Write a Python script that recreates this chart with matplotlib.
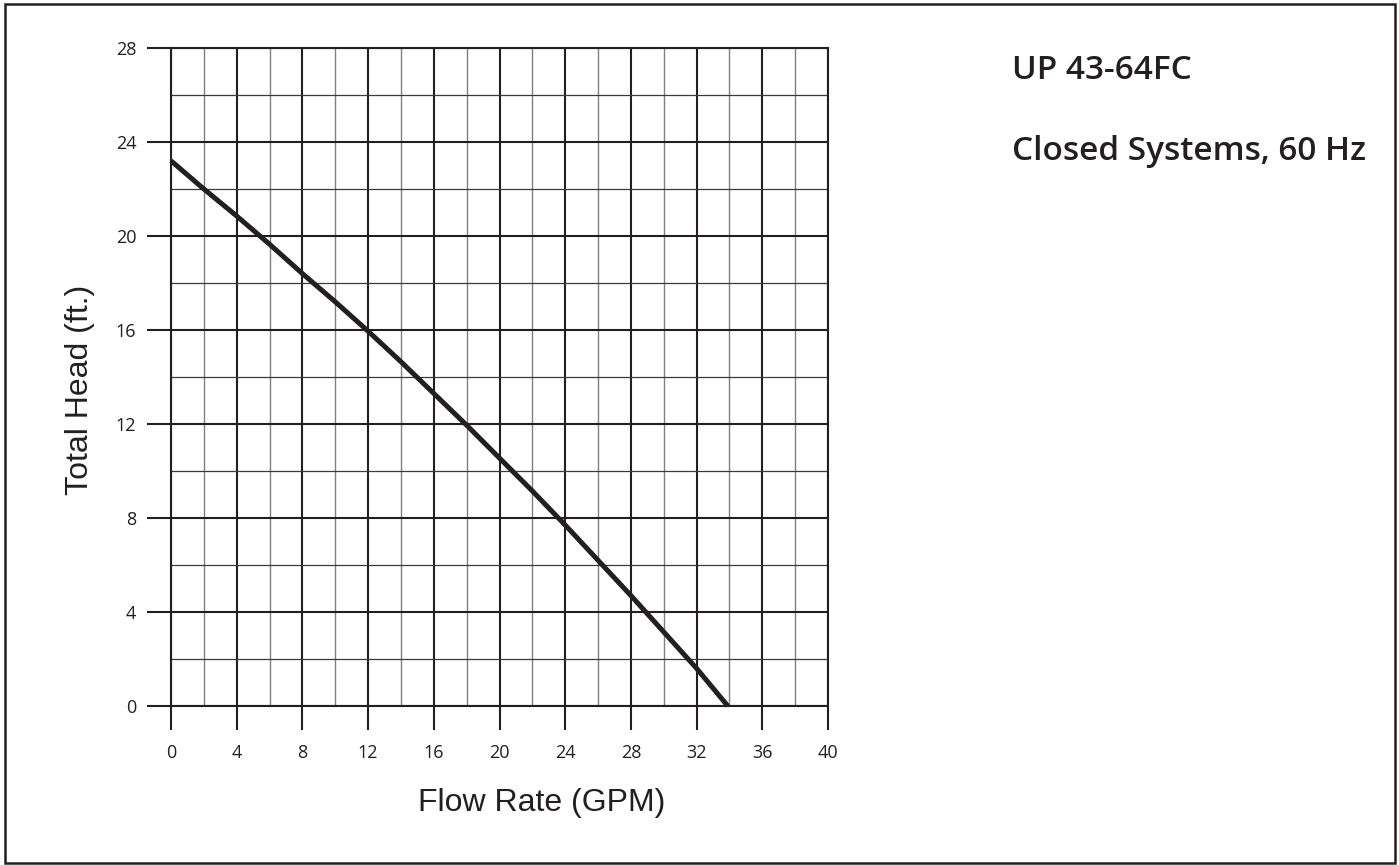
import matplotlib
matplotlib.use("Agg")
import matplotlib.pyplot as plt
from matplotlib.patches import Rectangle
from matplotlib.ticker import MultipleLocator

# pump curve, flow in GPM vs total head in ft
flow_gpm = [0, 2, 4, 6, 8, 10, 12, 14, 16, 18, 20, 22, 24, 26, 28, 30, 32, 33.9]
head_ft = [23.2, 22.0, 20.85, 19.65, 18.4, 17.2, 15.95, 14.65, 13.3, 11.95,
           10.55, 9.15, 7.7, 6.2, 4.7, 3.15, 1.6, 0.0]

model_name = "UP 43-64FC"
subtitle = "Closed Systems, 60 Hz"
x_label = "Flow Rate (GPM)"
y_label = "Total Head (ft.)"

plt.rcParams["font.family"] = ["Open Sans", "DejaVu Sans"]

W, H = 1399, 865
fig = plt.figure(figsize=(W / 100, H / 100), dpi=100)
ax = fig.add_axes([171 / W, 1 - 706 / H, (828 - 171) / W, (706 - 48) / H])

dark = "#231f20"
ax.set_xlim(0, 40)
ax.set_ylim(0, 28)
ax.xaxis.set_major_locator(MultipleLocator(4))
ax.xaxis.set_minor_locator(MultipleLocator(2))
ax.yaxis.set_major_locator(MultipleLocator(4))
ax.yaxis.set_minor_locator(MultipleLocator(2))

# grid: heavy lines every 4, light lines every 2
ax.grid(which="major", color=dark, linewidth=1.5)
ax.xaxis.grid(which="minor", color="#808080", linewidth=1.0)
ax.yaxis.grid(which="minor", color="#3a3a3a", linewidth=0.9)
ax.set_axisbelow(True)

for s in ax.spines.values():
    s.set_color(dark)
    s.set_linewidth(1.5)

ax.tick_params(which="major", length=17, width=1.5, color=dark,
               labelsize=13, labelcolor=dark)
ax.tick_params(which="minor", length=0)
ax.tick_params(axis="x", pad=10)
ax.tick_params(axis="y", pad=8)

ax.plot(flow_gpm, head_ft, color=dark, linewidth=3.6, solid_capstyle="butt",
        solid_joinstyle="round", zorder=5, clip_on=False)

fig.text(80 / W, 1 - 390 / H, y_label, rotation=90, ha="center", va="center",
         fontsize=23, family="Liberation Sans", color=dark)
fig.text(542 / W, 1 - 803 / H, x_label, ha="center", va="center",
         fontsize=23, family="Liberation Sans", color=dark)

fig.text(1012 / W, 1 - 79 / H, model_name, ha="left", va="baseline",
         fontsize=24, fontweight="semibold", color=dark)
fig.text(1012 / W, 1 - 160 / H, subtitle, ha="left", va="baseline",
         fontsize=24, fontweight="semibold", color=dark)

# outer frame
fig.patches.append(Rectangle((5 / W, 1 - 863 / H), (1395 - 5) / W, (863 - 4) / H,
                             transform=fig.transFigure, fill=False,
                             edgecolor=dark, linewidth=1.8))

fig.savefig("out.png", dpi=100)
